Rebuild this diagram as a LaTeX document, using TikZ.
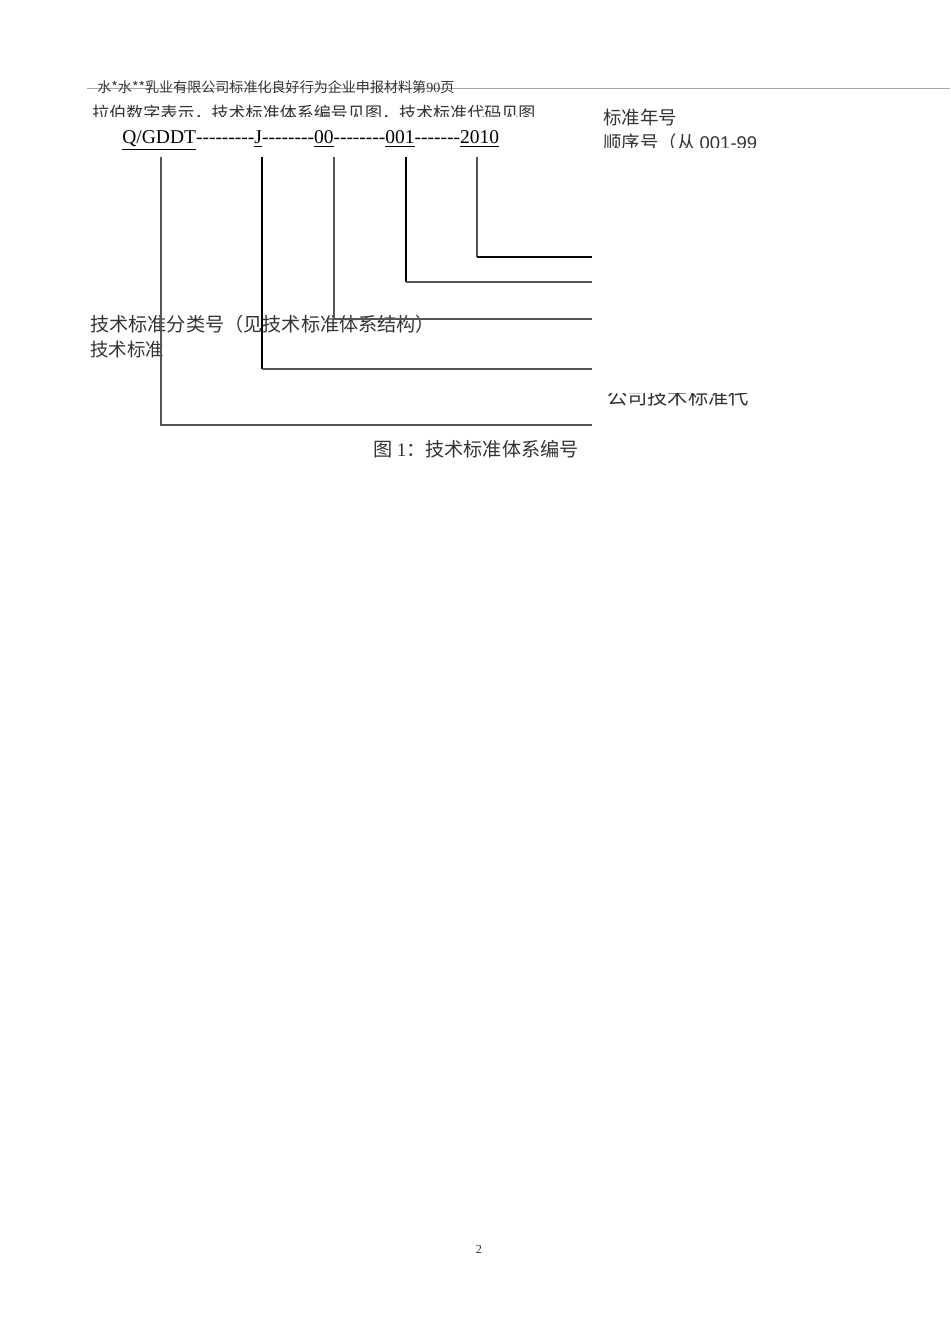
\documentclass[tikz,border=0pt]{standalone}
\usepackage{fontspec}
\setmainfont{Liberation Serif}
\newfontfamily\cjk{Noto Sans CJK SC}
\newfontfamily\codefont[Ligatures=TeXOff]{Liberation Serif}
\newfontfamily\arial{Liberation Sans}
\definecolor{txt}{HTML}{333333}
\definecolor{rulegray}{HTML}{555555}

\begin{document}
\begin{tikzpicture}[x=0.02cm,y=-0.02cm,
  lbl/.style={anchor=west,inner sep=0pt,text=txt,font=\fontsize{10.5}{12}\selectfont\cjk},
  thinline/.style={color=rulegray,line width=0.7pt},
  thickline/.style={color=black,line width=1.3pt}]
\useasboundingbox (0,0) rectangle (950,1344);
% header
\draw [color=gray!70, line width=0.5pt] (87,88) -- (950,88);
\node [lbl, font=\fontsize{8}{9}\selectfont\cjk] (head) at (97,87) {水*水**乳业有限公司标准化良好行为企业申报材料第{\rmfamily 90}页};
\begin{scope}
\clip (80,95) rectangle (560,116.5);
\node [lbl, font=\fontsize{9.7}{12}\selectfont\cjk] (intro) at (92,113) {拉伯数字表示，技术标准体系编号见图，技术标准代码见图};
\end{scope}
% code
\node [anchor=base west, inner sep=0pt, text=black, font=\fontsize{11.1}{12}\selectfont\codefont] (code) at (122,143.5)
  {\underline{Q/GDDT}---------\underline{J}--------\underline{00}--------\underline{001}-------\underline{2010}};
\coordinate (qtop) at (161,157);   \coordinate (qend) at (592,425);
\coordinate (jtop) at (262,157);   \coordinate (jend) at (592,369);
\coordinate (ctop) at (334,157);   \coordinate (cend) at (592,319);
\coordinate (stop) at (406,157);   \coordinate (send) at (592,282);
\coordinate (ytop) at (477,157);   \coordinate (yend) at (592,257);
% labels
\node [lbl] (year) at (603,117) {标准年号};
\begin{scope}
\clip (595,125) rectangle (800,148);
\node [lbl] (seq) at (603,142) {顺序号（从 {\arial 001-99}};
\end{scope}
\node [lbl, font=\fontsize{10.9}{12}\selectfont\cjk] (cls) at (90,324) {技术标准分类号（见技术标准体系结构）};
\node [lbl] (tech) at (90,349) {技术标准};
\begin{scope}
\clip (595,393) rectangle (800,415);
\node [lbl, font=\fontsize{11.5}{13}\selectfont\cjk] (comp) at (607,397) {公司技术标准代};
\end{scope}
% connectors
\draw [thinline] (qtop) |- (qend);
\draw [thickline] (jtop) -- (jtop |- jend);
\draw [thinline] (jtop |- jend) -- (jend);
\draw [thinline] (ctop) |- (cend);
\draw [thickline] (stop) -- (stop |- send);
\draw [thinline] (stop |- send) -- (send);
\draw [thinline] (ytop) -- (ytop |- yend);
\draw [thickline] (ytop |- yend) -- (yend);
% caption
\node [lbl, font=\fontsize{10.9}{12}\selectfont\cjk] (cap) at (373,449) {图 {\rmfamily 1}：技术标准体系编号};
\node [inner sep=0pt, text=txt, font=\fontsize{7}{8}\selectfont] (page) at (479,1249) {2};
\end{tikzpicture}
\end{document}
